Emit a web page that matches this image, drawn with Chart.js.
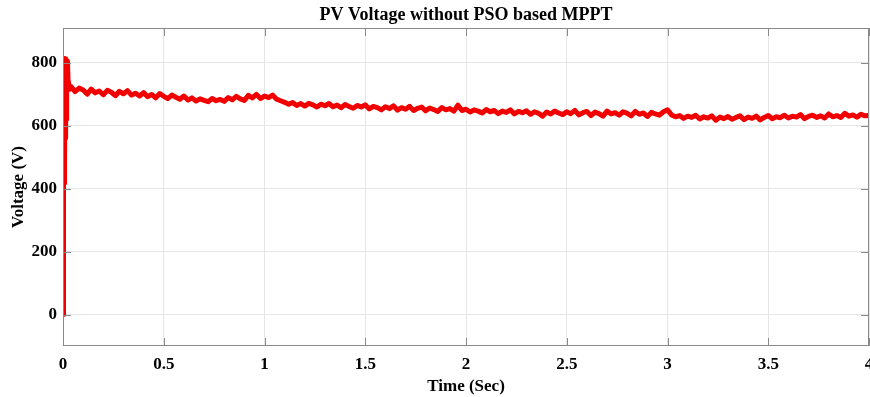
<!DOCTYPE html>
<html>
<head>
<meta charset="utf-8">
<script src="https://cdn.jsdelivr.net/npm/chart.js@4"></script>
<style>
html,body{margin:0;padding:0;background:#fff;}
#wrap{width:870px;height:397px;position:relative;}
</style>
</head>
<body>
<div id="wrap"><canvas id="c"></canvas></div>
<script>
const chartTitle = "PV Voltage without PSO based MPPT";
const xTitle = "Time (Sec)";
const yTitle = "Voltage (V)";
const yTickValues = [0, 200, 400, 600, 800];

// start-up transient (time in s, voltage in V)
const transientT = [0, 0.0008, 0.002, 0.003, 0.004, 0.005, 0.006, 0.007, 0.008, 0.009, 0.010, 0.012, 0.014, 0.016, 0.018, 0.020, 0.022, 0.025, 0.030, 0.035];
const transientV = [0, 420, 812, 425, 810, 418, 812, 440, 808, 470, 812, 560, 810, 620, 800, 760, 805, 745, 728, 716];

// steady part, sampled every 0.02 s from 0.04 s to 4.0 s
const steadyStart = 0.04;
const steadyStep = 0.02;
const steadyV = [
  724, 708, 719, 713, 700, 716, 704, 710, 698, 712, 706, 695, 709, 701, 711, 697, 703, 694,
  705, 692, 699, 688, 702, 693, 686, 697, 690, 684, 694, 681, 688, 678, 685, 680, 676, 686, 679, 683,
  677, 689, 682, 693, 685, 680, 696, 688, 699, 686, 694, 689, 697, 684, 679, 674, 668, 673, 664, 670,
  662, 671, 666, 659, 668, 663, 670, 660, 665, 657, 667, 661, 655, 664, 659, 666, 653, 661, 657, 650,
  660, 654, 663, 649, 657, 652, 661, 648, 655, 659, 647, 656, 651, 645, 657, 650, 654, 646, 665, 648,
  652, 643, 650, 646, 640, 651, 644, 648, 638, 646, 642, 650, 637, 645, 641, 647, 636, 644, 639, 630,
  643, 637, 646, 640, 635, 644, 638, 648, 634, 641, 645, 632, 643, 638, 630, 646, 637, 641, 633, 644,
  639, 631, 645, 636, 640, 629, 642, 637, 633, 644, 650, 634, 628, 632, 623, 630, 626, 633, 621, 628,
  624, 631, 617, 627, 622, 629, 620, 626, 631, 619, 627, 623, 630, 618, 626, 632, 622, 628, 625, 633,
  624, 630, 627, 635, 622, 629, 633, 626, 631, 624, 637, 628, 632, 626, 639, 630, 634, 627, 636, 631,
  632
];

const points = [];
transientT.forEach((t, i) => points.push({x: t, y: transientV[i]}));
steadyV.forEach((v, i) => points.push({x: +(steadyStart + i * steadyStep).toFixed(4), y: v}));

const FONT = "'Liberation Serif', 'Times New Roman', serif";

const framePlugin = {
  id: 'frame',
  afterDatasetsDraw(chart) {
    const {ctx, chartArea: a, scales: {x, y}} = chart;
    ctx.save();
    ctx.strokeStyle = '#8a8a8a';
    ctx.lineWidth = 1;
    ctx.beginPath();
    x.ticks.forEach(t => {
      const px = Math.round(x.getPixelForValue(t.value)) + 0.5;
      ctx.moveTo(px, a.bottom); ctx.lineTo(px, a.bottom - 8);
      ctx.moveTo(px, a.top); ctx.lineTo(px, a.top + 8);
    });
    y.ticks.forEach(t => {
      const py = Math.round(y.getPixelForValue(t.value)) + 0.5;
      ctx.moveTo(a.left, py); ctx.lineTo(a.left + 8, py);
      ctx.moveTo(a.right, py); ctx.lineTo(a.right - 8, py);
    });
    ctx.stroke();
    ctx.strokeRect(Math.round(a.left) + 0.5, Math.round(a.top) + 0.5, Math.round(a.right - a.left) - 1, Math.round(a.bottom - a.top) - 1);
    ctx.restore();
  },
  afterDraw(chart) {
    const {ctx, chartArea: a} = chart;
    ctx.save();
    ctx.font = "bold 18px " + FONT;
    ctx.fillStyle = '#000';
    ctx.textAlign = 'center';
    ctx.textBaseline = 'middle';
    ctx.fillText(chartTitle, (a.left + a.right) / 2, 15);
    ctx.restore();
  }
};

new Chart(document.getElementById('c'), {
  type: 'line',
  data: {
    datasets: [{
      data: points,
      borderColor: '#f20000',
      borderWidth: 5,
      borderJoinStyle: 'round',
      borderCapStyle: 'round',
      pointRadius: 0,
      tension: 0,
      fill: false
    }]
  },
  options: {
    responsive: true,
    maintainAspectRatio: false,
    animation: false,
    layout: {padding: {top: 28, right: 1, left: 0, bottom: 0}},
    plugins: {legend: {display: false}, tooltip: {enabled: false}, title: {display: false}},
    scales: {
      x: {
        type: 'linear',
        min: 0, max: 4,
        ticks: {stepSize: 0.5, padding: 8, color: '#000', font: {family: FONT, size: 17, weight: 'bold'}, maxRotation: 0,
          callback: v => String(+v.toFixed(2))},
        grid: {color: '#e6e6e6', drawTicks: false},
        border: {display: false},
        title: {display: true, text: xTitle, color: '#000', font: {family: FONT, size: 17, weight: 'bold'}, padding: {top: 0, bottom: 0}},
        afterFit(s) { s.height = 51; s.paddingLeft = 0; s.paddingRight = 0; }
      },
      y: {
        type: 'linear',
        min: -100, max: 910,
        afterBuildTicks(s) { s.ticks = yTickValues.map(v => ({value: v})); },
        ticks: {padding: 6, color: '#000', font: {family: FONT, size: 17, weight: 'bold'}},
        grid: {color: '#e6e6e6', drawTicks: false},
        border: {display: false},
        title: {display: true, text: yTitle, color: '#000', font: {family: FONT, size: 17, weight: 'bold'}, padding: {top: 8, bottom: 0}},
        afterFit(s) { s.width = 63; s.paddingTop = 0; s.paddingBottom = 0; }
      }
    }
  },
  plugins: [framePlugin]
});
</script>
</body>
</html>
